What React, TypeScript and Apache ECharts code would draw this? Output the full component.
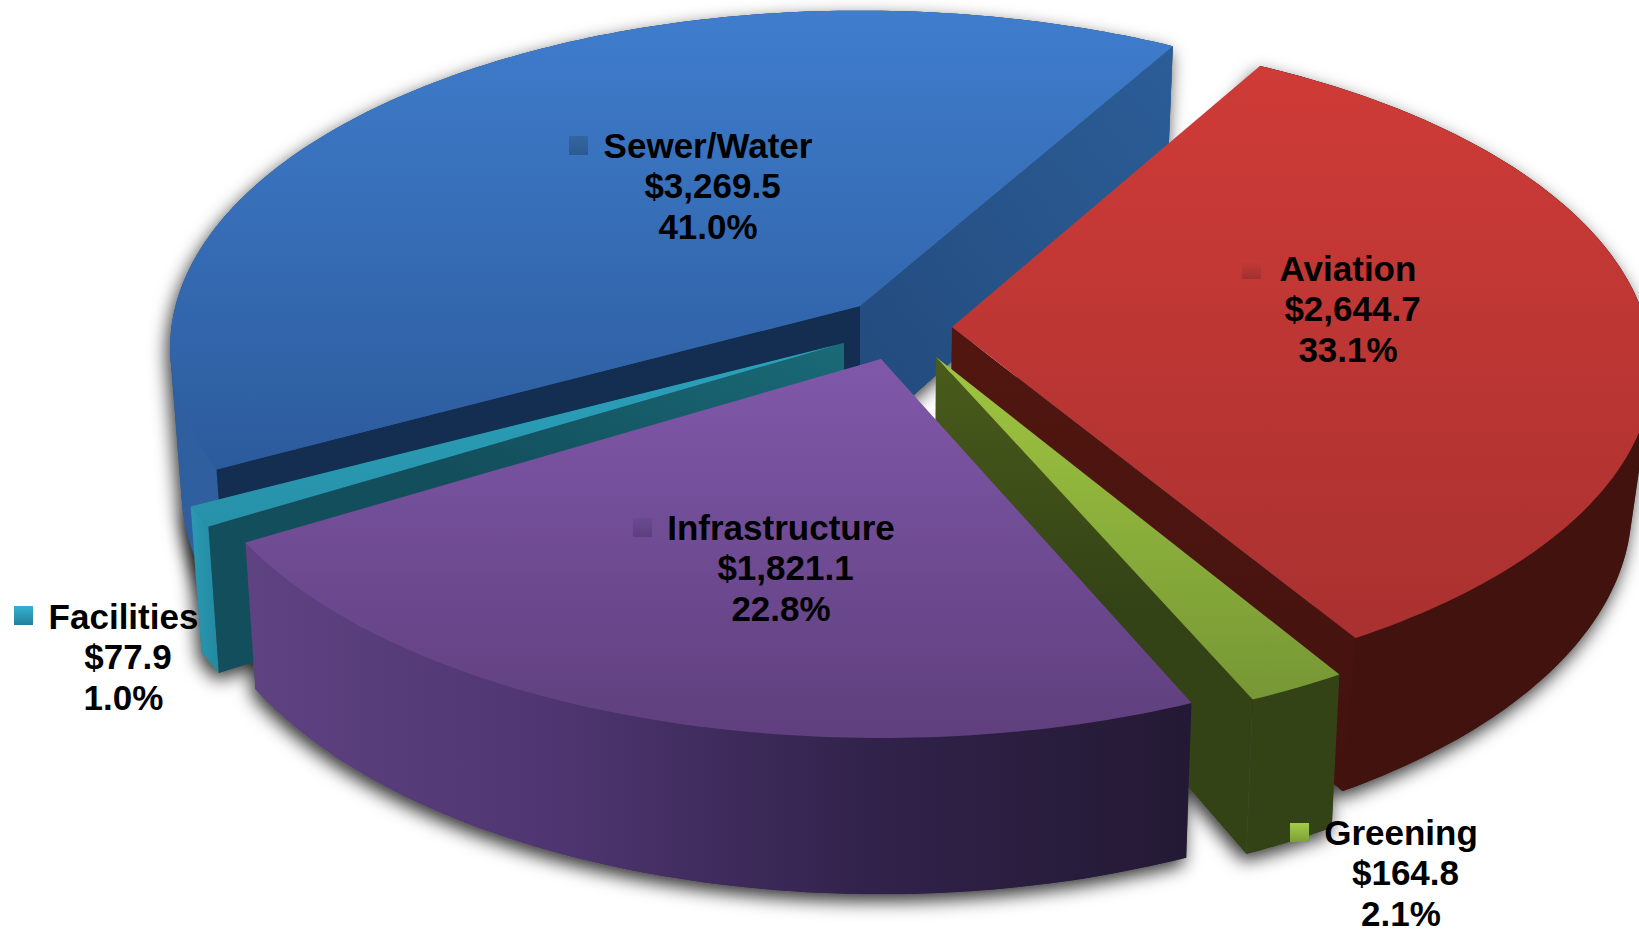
import React, { useEffect, useRef } from "react";
import * as echarts from "echarts";

// clockwise from the Aviation / Sewer boundary
const categories = ["Aviation", "Greening", "Infrastructure", "Facilities", "Sewer/Water"];
const amounts = [2644.7, 164.8, 1821.1, 77.9, 3269.5];
const amountLabels = ["$2,644.7", "$164.8", "$1,821.1", "$77.9", "$3,269.5"];
const shareLabels = ["33.1%", "2.1%", "22.8%", "1.0%", "41.0%"];

// back to front
const paintOrder = [4, 0, 1, 3, 2];

const START_DEG = 29.9;
const RX = 695;
const RY = 332;
const PERSP = 0.124;
const DEPTH = 137;
const BASE_CX = 860;

const apex = [
  [952, 327],
  [936, 357],
  [881, 359],
  [844, 343],
  [860, 306],
];
const angleNudge = [-0.5, -0.5, 0, 0, 0];
const leftReach = [1, 1, 1, 1, 0.985];
const frontReach = [0.98, 1, 1, 1, 1];
const baseScale = [0.974, 0.984, 0.984, 0.984, 0.984];

const lin = (x0: number, y0: number, x1: number, y1: number, stops: string[]) =>
  new echarts.graphic.LinearGradient(
    x0,
    y0,
    x1,
    y1,
    stops.map((color, i) => ({ offset: i / (stops.length - 1), color }))
  );

const look = [
  {
    top: ["#cf3b37", "#a93130"],
    wall: ["#42120f", "#42120f"],
    cutStart: ["#42120f", "#42120f"],
    cutEnd: ["#521610", "#42120f"],
    marker: ["#c63a36", "#a23030"],
  },
  {
    top: ["#9fc640", "#769735"],
    wall: ["#334316", "#334316"],
    cutStart: ["#334316", "#334316"],
    cutEnd: ["#4a5c1b", "#334316", "#334316"],
    marker: ["#a3cc48", "#7d9f38"],
  },
  {
    top: ["#8058aa", "#5f3f7d"],
    wall: ["#5f4282", "#4e3570", "#30224a", "#241934"],
    cutStart: ["#241934", "#241934"],
    cutEnd: ["#241934", "#241934"],
    marker: ["#6a4a90", "#5d3f80"],
  },
  {
    top: ["#2ba2bb", "#2791a9"],
    wall: ["#2a9ab3", "#2289a0"],
    cutStart: ["#134e5c", "#134e5c", "#1a6a77"],
    cutEnd: ["#134e5c", "#134e5c"],
    marker: ["#33b2d1", "#24809a"],
  },
  {
    top: ["#3f7dcd", "#2c5b9c"],
    wall: ["#2f5f9f", "#2b5a98"],
    cutStart: ["#132e50", "#132e50"],
    cutEnd: ["#2c5d97", "#224a7c"],
    marker: ["#35659f", "#2b5a93"],
  },
];

const labelPos = [
  { x: 1348, y: 268, mx: 1242, my: 260 },
  { x: 1401, y: 832, mx: 1290, my: 823 },
  { x: 781, y: 527, mx: 633, my: 518 },
  { x: 123.5, y: 616, mx: 14, my: 606 },
  { x: 708, y: 145, mx: 569, my: 136 },
];

const total = amounts.reduce((a, b) => a + b, 0);
const startDegs: number[] = [];
{
  let acc = START_DEG;
  amounts.forEach((v) => {
    startDegs.push(acc);
    acc += (v / total) * 360;
  });
}

function rim(i: number, deg: number) {
  const rad = ((deg + angleNudge[i]) * Math.PI) / 180;
  const u = Math.sin(rad);
  const v = -Math.cos(rad);
  const d = 1 - PERSP * v;
  const reachX = u < 0 ? leftReach[i] : 1;
  const reachY = v > 0 ? frontReach[i] : 1;
  return [apex[i][0] + (RX * reachX * u) / d, apex[i][1] + (RY * reachY * v) / d, 1 / d];
}
const lower = (i: number, p: number[]) => [
  BASE_CX + (p[0] - BASE_CX) * baseScale[i],
  p[1] + DEPTH * p[2],
];

function arcPoints(i: number) {
  const a0 = startDegs[i];
  const sweep = (amounts[i] / total) * 360;
  const n = Math.max(2, Math.ceil(sweep));
  const pts: number[][] = [];
  for (let k = 0; k <= n; k++) pts.push(rim(i, a0 + (sweep * k) / n));
  return pts;
}

const apexLow = (i: number) => lower(i, [apex[i][0], apex[i][1], 1]);
const xy = (p: number[]) => [p[0], p[1]];

function hull(input: number[][]) {
  const pts = input.slice().sort((a, b) => a[0] - b[0] || a[1] - b[1]);
  const cross = (o: number[], a: number[], b: number[]) =>
    (a[0] - o[0]) * (b[1] - o[1]) - (a[1] - o[1]) * (b[0] - o[0]);
  const half = (list: number[][]) => {
    const out: number[][] = [];
    for (const p of list) {
      while (out.length >= 2 && cross(out[out.length - 2], out[out.length - 1], p) <= 0) out.pop();
      out.push(p);
    }
    out.pop();
    return out;
  };
  return [...half(pts), ...half(pts.slice().reverse())];
}

function shadowItem(params: any) {
  const i = paintOrder[params.dataIndex];
  const arc = arcPoints(i);
  const base = arc.map((p) => lower(i, p));
  const shape = { points: hull([apexLow(i), ...base, ...arc.map(xy)]) };
  return {
    type: "group",
    children: [
      {
        type: "polygon",
        shape,
        style: {
          fill: "#555",
          shadowBlur: 18,
          shadowColor: "rgba(0,0,0,0.8)",
          shadowOffsetX: -3,
          shadowOffsetY: 7,
        },
      },
    ],
  };
}

function sliceItem(params: any) {
  const i = paintOrder[params.dataIndex];
  const s = look[i];
  const arc = arcPoints(i);
  const base = arc.map((p) => lower(i, p));
  const a = apex[i];
  const al = apexLow(i);
  const first = arc[0];
  const last = arc[arc.length - 1];
  const a0 = startDegs[i] + angleNudge[i];
  const a1 = a0 + (amounts[i] / total) * 360;
  const cutFill = (stops: string[], p: number[]) => {
    if (p[1] > a[1] && p[0] > a[0]) return lin(0, 0, 0, 1, stops);
    return p[0] > a[0] ? lin(1, 0, 0, 1, stops) : lin(0, 1, 1, 0, stops);
  };
  const children: any[] = [
    {
      type: "polygon",
      shape: { points: hull([...arc.map(xy), ...base]) },
      style: { fill: lin(0, 0, 1, 0, s.wall) },
    },
  ];
  // a cut face shows only where dropping the edge moves it out of the wedge
  if (Math.sin((a0 * Math.PI) / 180) < 0) {
    children.push({
      type: "polygon",
      shape: { points: [a, xy(first), lower(i, first), al] },
      style: { fill: cutFill(s.cutStart, first) },
    });
  }
  if (Math.sin((a1 * Math.PI) / 180) > 0) {
    children.push({
      type: "polygon",
      shape: { points: [a, xy(last), lower(i, last), al] },
      style: { fill: cutFill(s.cutEnd, last) },
    });
  }
  children.push({
    type: "polygon",
    shape: { points: [a, ...arc.map(xy)] },
    style: { fill: lin(0, 0, 0, 1, s.top) },
  });
  return { type: "group", children };
}

const font = { fontFamily: "Liberation Sans", fontWeight: "bold", fontSize: 35, fill: "#000" } as const;

function labelItem(params: any) {
  const i = params.dataIndex;
  const p = labelPos[i];
  const line = (text: string, x: number, y: number) => ({
    type: "text",
    style: { ...font, text, x, y, align: "center", verticalAlign: "middle" },
  });
  return {
    type: "group",
    children: [
      {
        type: "rect",
        shape: { x: p.mx, y: p.my, width: 19, height: 19 },
        style: { fill: lin(0, 0, 0, 1, look[i].marker) },
      },
      line(categories[i], p.x, p.y),
      line(amountLabels[i], p.x + 4.5, p.y + 40.5),
      line(shareLabels[i], p.x, p.y + 81),
    ],
  };
}

export default function App() {
  const ref = useRef<HTMLDivElement>(null);
  useEffect(() => {
    document.body.style.margin = "0";
    document.body.style.background = "#fff";
    document.body.style.overflow = "hidden";
    const chart = echarts.init(ref.current!, null, { renderer: "svg" });
    const paintData = paintOrder.map((i) => ({ name: categories[i], value: [amounts[i]] }));
    chart.setOption({
      animation: false,
      backgroundColor: "#ffffff",
      series: [
        { type: "custom", coordinateSystem: "none", silent: true, z: 1, data: paintData, renderItem: shadowItem },
        { type: "custom", coordinateSystem: "none", silent: true, z: 2, data: paintData, renderItem: sliceItem },
        {
          type: "custom",
          coordinateSystem: "none",
          silent: true,
          z: 3,
          data: categories.map((name, i) => ({ name, value: [amounts[i]] })),
          renderItem: labelItem,
        },
      ],
    });
    return () => chart.dispose();
  }, []);
  return <div ref={ref} style={{ width: 1639, height: 933 }} />;
}
